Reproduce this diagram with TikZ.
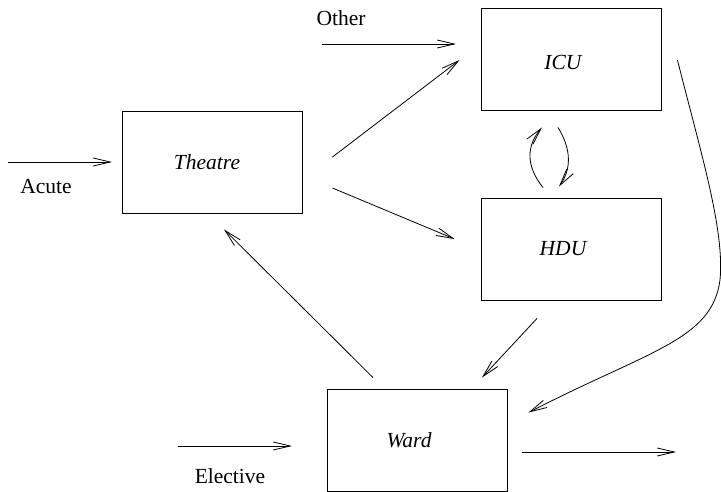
\documentclass[tikz,border=0pt]{standalone}
\usepackage{fontspec}
\setmainfont{Liberation Serif}
\usetikzlibrary{arrows.meta,calc}
\begin{document}
\begin{tikzpicture}[x=1pt,y=-1pt,
  unit/.style={draw,line width=0.9pt,minimum width=180pt,minimum height=102pt,inner sep=0pt,font=\fontsize{21.5}{25}\selectfont\itshape},
  lbl/.style={inner sep=0pt,font=\fontsize{21.5}{25}\selectfont},
  flow/.style={line width=0.8pt,-{Straight Barb[length=17pt,width=8pt,line width=0.8pt]}}]
\useasboundingbox (0,0) rectangle (721,491);
\node[unit] (theatre) at (212,162) {};
\node[lbl,font=\fontsize{21.5}{25}\selectfont\itshape] (theatreT) at (207,162) {Theatre};
\node[unit] (icu) at (571,59) {};
\node[lbl,font=\fontsize{21.5}{25}\selectfont\itshape] (icuT) at (563,62) {ICU};
\node[unit] (hdu) at (571,249) {};
\node[lbl,font=\fontsize{21.5}{25}\selectfont\itshape] (hduT) at (563,249) {HDU};
\node[unit] (ward) at (417,440) {};
\node[lbl,font=\fontsize{21.5}{25}\selectfont\itshape] (wardT) at (409,440) {Ward};
\node[lbl] (acute) at (46,187) {Acute};
\node[lbl] (other) at (341,18) {Other};
\node[lbl] (elective) at (230,476) {Elective};
% free ends
\coordinate (acuteS) at (8,162);
\coordinate (acuteE) at (112,162);
\coordinate (otherS) at (322,44);
\coordinate (otherE) at (456,44);
\coordinate (elS) at (178,446);
\coordinate (elE) at (292,446);
\coordinate (outS) at (522,452);
\coordinate (outE) at (676,452);
\draw[flow] (acuteS) -- (acuteE);
\draw[flow] (otherS) -- (otherE);
\draw[flow] (elS) -- (elE);
\draw[flow] (outS) -- (outE);
\draw[flow] ($(theatre.east)+(30,-5)$) -- ($(icu.west)+(-21,1)$);
\draw[flow] ($(theatre.east)+(30,26)$) -- ($(hdu.west)+(-26,-10)$);
\draw[flow] ($(ward.north)+(-44,-11)$) -- ($(theatre.south)+(12,16)$);
\draw[flow] ($(hdu.south)+(-34,18)$) -- ($(ward.north)+(65,-11)$);
\draw[flow] ($(hdu.north)+(-28,-10)$) .. controls (525,165) and (527,145) .. ($(icu.south)+(-29,17)$);
\draw[flow] ($(icu.south)+(-13,17)$) .. controls (572,150) and (571,170) .. ($(hdu.north)+(-12,-11)$);
\draw[flow] ($(icu.east)+(16,1)$) .. controls (700,150) and (725,230) .. (720,280)
   .. controls (712,340) and (650,350) .. ($(ward.north east)+(21,24)$);
\end{tikzpicture}
\end{document}
